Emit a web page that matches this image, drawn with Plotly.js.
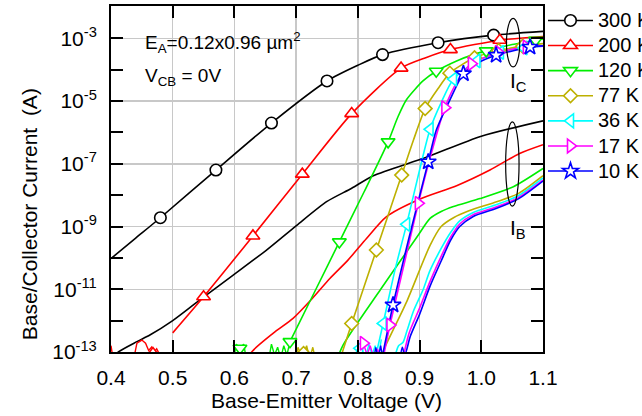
<!DOCTYPE html>
<html><head><meta charset="utf-8">
<script src="https://cdn.plot.ly/plotly-3.0.1.min.js"></script>
<style>html,body{margin:0;padding:0;background:#fff}#chart{width:642px;height:416px}</style>
</head><body><div id="chart"></div>
<script>
// Values. Voltages in V; currents stored as log10(I / A).
const temps = ['300 K','200 K','120 K','77 K','36 K','17 K','10 K'];

// 300 K
const vIc300 = [0.40,0.44,0.48,0.57,0.66,0.75,0.80,0.84,0.93,1.02,1.10];
const lgIc300 = [-10.02,-9.37,-8.72,-7.20,-5.70,-4.36,-3.86,-3.52,-3.14,-2.90,-2.78];
const mkV300 = [0.48,0.57,0.66,0.75,0.84,0.93,1.02];
const mkLg300 = [-8.72,-7.20,-5.70,-4.36,-3.52,-3.14,-2.90];
const vIb300 = [0.40,0.412,0.442,0.463,0.50,0.544,0.598,0.652,0.701,0.75,0.79,0.825,0.91,1.00,1.10];
const lgIb300 = [-13.25,-13.0,-12.67,-12.46,-12.0,-11.34,-10.55,-9.75,-8.96,-8.2,-7.78,-7.38,-6.8,-6.12,-5.63];

// 200 K
const vIc200 = [0.50,0.55,0.63,0.71,0.79,0.87,0.91,0.95,1.03,1.10];
const lgIc200 = [-12.39,-11.24,-9.30,-7.33,-5.40,-3.95,-3.62,-3.36,-3.06,-2.94];
const nzV200 = [0.400,0.404,null,0.436,0.442,0.450,0.456,0.461,0.466,0.470,0.474,0.478,0.483];
const nzLg200 = [-12.8,-13.3,null,-13.3,-12.72,-12.62,-12.72,-12.95,-12.84,-13.0,-12.9,-13.05,-13.3];
const mkV200 = [0.468,0.55,0.63,0.71,0.79,0.87,0.95,1.03];
const mkLg200 = [-13.05,-11.24,-9.30,-7.33,-5.40,-3.95,-3.36,-3.06];
const vIb200 = [0.622,0.628,0.663,0.695,0.725,0.755,0.784,0.814,0.846,0.90,0.96,1.014,1.062,1.10];
const lgIb200 = [-13.3,-13.0,-12.4,-11.93,-11.32,-10.65,-10.07,-9.38,-8.69,-8.13,-7.7,-7.2,-6.67,-6.39];

// 120 K
const vIc120 = [0.69,0.73,0.77,0.81,0.849,0.865,0.879,0.906,0.927,0.96,0.987,1.008,1.05,1.10];
const lgIc120 = [-12.67,-11.08,-9.49,-7.9,-6.30,-5.5,-4.95,-4.35,-4.05,-3.72,-3.52,-3.40,-3.20,-3.02];
const nzV120 = [0.598,0.603,0.609,0.615,0.62,null,0.655,0.66,0.665,0.67,0.675,0.68,0.685,0.69];
const nzLg120 = [-13.3,-12.75,-12.88,-12.75,-13.3,null,-13.3,-12.75,-13.1,-12.85,-13.2,-12.8,-13.1,-12.67];
const mkV120 = [0.609,0.69,0.77,0.849,0.927,1.008,1.088];
const mkLg120 = [-12.88,-12.67,-9.49,-6.30,-4.05,-3.40,-3.06];
const vIb120 = [0.765,0.776,0.837,0.898,0.917,0.935,0.955,0.998,1.052,1.10];
const lgIb120 = [-13.3,-12.78,-11.0,-9.27,-8.74,-8.52,-8.36,-8.11,-7.73,-7.15];

// 77 K
const vIc77 = [0.770,0.790,0.830,0.871,0.89,0.909,0.93,0.949,0.989,1.028,1.067,1.10];
const lgIc77 = [-13.3,-12.09,-9.75,-7.36,-6.25,-5.24,-4.6,-4.11,-3.62,-3.39,-3.25,-3.17];
const nzV77 = [0.698,0.703,0.708,0.712,0.717,0.722,0.727,0.732];
const nzLg77 = [-13.3,-12.85,-13.1,-13.05,-12.8,-13.2,-12.85,-13.3];
const mkV77 = [0.712,0.790,0.830,0.871,0.909,0.949,0.989,1.028,1.067];
const mkLg77 = [-13.05,-12.09,-9.75,-7.36,-5.24,-4.11,-3.62,-3.39,-3.25];
const vIb77 = [0.835,0.845,0.879,0.917,0.935,0.955,0.98,1.025,1.06,1.10];
const lgIb77 = [-13.3,-12.8,-11.4,-9.6,-9.0,-8.72,-8.5,-8.21,-7.95,-7.38];

// 36 K
const vIc36 = [0.827,0.841,0.86,0.879,0.90,0.917,0.935,0.955,0.993,1.031,1.069,1.10];
const lgIc36 = [-13.3,-12.09,-10.4,-8.93,-7.2,-5.9,-5.05,-4.3,-3.72,-3.45,-3.31,-3.25];
const nzV36 = [0.795,0.80,0.806,0.812,0.818,0.823,0.828,0.833,0.838];
const nzLg36 = [-13.3,-12.75,-12.88,-13.2,-12.75,-13.1,-12.8,-13.2,-12.6];
const mkV36 = [0.803,0.841,0.879,0.917,0.955,0.993,1.031,1.069];
const mkLg36 = [-12.88,-12.09,-8.93,-5.9,-4.3,-3.72,-3.45,-3.31];
const vIb36 = [0.858,0.866,0.873,0.88,0.89,0.906,0.917,0.935,0.95,0.965,0.987,1.025,1.06,1.10];
const lgIb36 = [-13.3,-12.8,-12.7,-12.3,-11.7,-11.0,-10.4,-9.7,-9.2,-8.82,-8.55,-8.3,-8.02,-7.45];

// 17 K
const vIc17 = [0.84,0.852,0.875,0.898,0.92,0.941,0.962,0.984,1.028,1.073,1.10];
const lgIc17 = [-13.3,-12.14,-10.2,-8.26,-6.6,-5.21,-4.35,-3.81,-3.45,-3.28,-3.25];
const nzV17 = [0.80,0.805,0.809,0.815,0.82,0.826,0.832,0.838];
const nzLg17 = [-13.3,-12.9,-12.72,-13.1,-12.8,-13.2,-12.9,-13.3];
const mkV17 = [0.809,0.852,0.898,0.941,0.984,1.028,1.073];
const mkLg17 = [-12.72,-12.14,-8.26,-5.21,-3.81,-3.45,-3.28];
const vIb17 = [0.872,0.883,0.90,0.917,0.935,0.95,0.965,0.987,1.025,1.06,1.10];
const lgIb17 = [-13.3,-12.4,-11.6,-10.75,-9.95,-9.35,-8.92,-8.62,-8.37,-8.08,-7.52];

// 10 K
const vIc10 = [0.838,0.857,0.882,0.914,0.927,0.949,0.971,0.992,1.024,1.079,1.10];
const lgIc10 = [-13.3,-11.50,-9.43,-6.94,-5.93,-4.97,-4.13,-3.81,-3.54,-3.28,-3.24];
const nzV10 = [0.825,0.829,0.833,0.837,0.841];
const nzLg10 = [-13.3,-12.85,-13.2,-12.8,-13.3];
const mkV10 = [0.857,0.914,0.971,1.024,1.079];
const mkLg10 = [-11.50,-6.94,-4.13,-3.54,-3.28];
const vIb10 = [0.868,0.872,0.876,0.885,0.90,0.917,0.935,0.95,0.965,0.987,1.025,1.06,1.10];
const lgIb10 = [-13.3,-12.85,-13.1,-12.5,-11.8,-10.9,-10.1,-9.45,-9.0,-8.68,-8.42,-8.12,-7.55];

const yTickVals = [1e-13,1e-11,1e-9,1e-7,1e-5,1e-3];
const yTickText = ['10<sup>-13</sup>','10<sup>-11</sup>','10<sup>-9</sup>','10<sup>-7</sup>','10<sup>-5</sup>','10<sup>-3</sup>'];
const yMinorVals = [1e-12,1e-10,1e-8,1e-6,1e-4,1e-2];

// ---- styling / assembly ----
const colors = ['#000000','#FF0000','#00EE00','#BDB000','#00FFFF','#FF00FF','#0000FF'];
const symbols = ['circle','triangle-up','triangle-down','diamond','triangle-left','triangle-right','star'];
const msizes = [11.5,12,12,10.5,12,12,12];
const toI = a => a.map(e => e === null ? null : Math.pow(10, e));
const FONT = 'Liberation Sans, Arial, sans-serif';

const sets = [
  {ic:[vIc300,lgIc300], nz:null, ib:[vIb300,lgIb300], mk:[mkV300,mkLg300]},
  {ic:[vIc200,lgIc200], nz:[nzV200,nzLg200], ib:[vIb200,lgIb200], mk:[mkV200,mkLg200]},
  {ic:[vIc120,lgIc120], nz:[nzV120,nzLg120], ib:[vIb120,lgIb120], mk:[mkV120,mkLg120]},
  {ic:[vIc77,lgIc77], nz:[nzV77,nzLg77], ib:[vIb77,lgIb77], mk:[mkV77,mkLg77]},
  {ic:[vIc36,lgIc36], nz:[nzV36,nzLg36], ib:[vIb36,lgIb36], mk:[mkV36,mkLg36]},
  {ic:[vIc17,lgIc17], nz:[nzV17,nzLg17], ib:[vIb17,lgIb17], mk:[mkV17,mkLg17]},
  {ic:[vIc10,lgIc10], nz:[nzV10,nzLg10], ib:[vIb10,lgIb10], mk:[mkV10,mkLg10]}
];

const lineTraces = [], markerTraces = [], legendTraces = [];
sets.forEach((s, i) => {
  const c = colors[i];
  lineTraces.push({x:s.ic[0], y:toI(s.ic[1]), mode:'lines', line:{color:c, width:1.6, shape:'spline', smoothing:0.7}, showlegend:false, hoverinfo:'skip'});
  lineTraces.push({x:s.ib[0], y:toI(s.ib[1]), mode:'lines', line:{color:c, width:1.6, shape:'spline', smoothing:0.7}, showlegend:false, hoverinfo:'skip'});
  if (s.nz) lineTraces.push({x:s.nz[0], y:toI(s.nz[1]), mode:'lines', line:{color:c, width:1.4}, connectgaps:false, showlegend:false, hoverinfo:'skip'});
  markerTraces.push({x:s.mk[0], y:toI(s.mk[1]), mode:'markers', marker:{symbol:symbols[i], size:msizes[i], color:'#ffffff', line:{color:c, width:1.6}}, showlegend:false, hoverinfo:'skip'});
  legendTraces.push({x:[null], y:[null], name:'<span style="font-size:20px">' + temps[i] + '</span>', mode:'lines+markers', line:{color:c, width:1.6}, marker:{symbol:symbols[i], size:msizes[i], color:'#ffffff', line:{color:c, width:1.6}}});
});

const axisCommon = {
  showline:true, linewidth:2, linecolor:'#000', mirror:'ticks',
  ticks:'inside', ticklen:12, tickwidth:2, tickcolor:'#000',
  showgrid:true, gridcolor:'#c8c8c8', gridwidth:1.5, zeroline:false,
  tickfont:{family:FONT, size:21, color:'#000'}
};

const layout = {
  width:642, height:416,
  margin:{l:111, r:99, t:6, b:64, autoexpand:false},
  paper_bgcolor:'#fff', plot_bgcolor:'#fff',
  font:{family:FONT, color:'#000'},
  xaxis: Object.assign({}, axisCommon, {range:[0.4,1.1], tickmode:'linear', tick0:0.4, dtick:0.1, tickformat:'.1f', ticklabelstandoff:6}),
  yaxis: Object.assign({}, axisCommon, {type:'log', range:[-13,-1.97], tickmode:'array', tickvals:yTickVals, ticktext:yTickText, ticklabelstandoff:8,
    minor:{tickmode:'array', tickvals:yMinorVals, ticks:'inside', ticklen:12, tickwidth:2, tickcolor:'#000', showgrid:false}}),
  showlegend:true,
  legend:{x:1.0, xanchor:'left', y:1.009, yanchor:'top', bgcolor:'rgba(0,0,0,0)', borderwidth:0, itemwidth:45,
    font:{family:FONT, size:17, color:'#000'}, tracegroupgap:0},
  shapes:[
    {type:'circle', xref:'x', yref:'paper', x0:1.0408, x1:1.0623, y0:0.824, y1:0.964, line:{color:'#000', width:1.2}},
    {type:'circle', xref:'x', yref:'paper', x0:1.0395, x1:1.0612, y0:0.4216, y1:0.665, line:{color:'#000', width:1.2}}
  ],
  annotations:[
    {xref:'paper', yref:'paper', x:0.074, y:0.895, xanchor:'left', yanchor:'middle', showarrow:false, text:'E<sub>A</sub>=0.12x0.96 µm<sup>2</sup>', font:{family:FONT, size:19}},
    {xref:'paper', yref:'paper', x:0.074, y:0.795, xanchor:'left', yanchor:'middle', showarrow:false, text:'V<sub>CB</sub> = 0V', font:{family:FONT, size:19}},
    {xref:'paper', yref:'paper', x:0.918, y:0.78, xanchor:'left', yanchor:'middle', showarrow:false, text:'I<sub>C</sub>', font:{family:FONT, size:21}},
    {xref:'paper', yref:'paper', x:0.918, y:0.355, xanchor:'left', yanchor:'middle', showarrow:false, text:'I<sub>B</sub>', font:{family:FONT, size:21}},
    {xref:'paper', yref:'paper', x:-0.19, y:0.398, xanchor:'center', yanchor:'middle', textangle:-90, showarrow:false, text:'Base/Collector Current  (A)', font:{family:FONT, size:21}},
    {xref:'paper', yref:'paper', x:0.499, y:-0.139, xanchor:'center', yanchor:'middle', showarrow:false, text:'Base-Emitter Voltage (V)', font:{family:FONT, size:21}}
  ]
};

Plotly.newPlot('chart', lineTraces.concat(markerTraces, legendTraces), layout, {displayModeBar:false, staticPlot:true});
</script></body></html>
